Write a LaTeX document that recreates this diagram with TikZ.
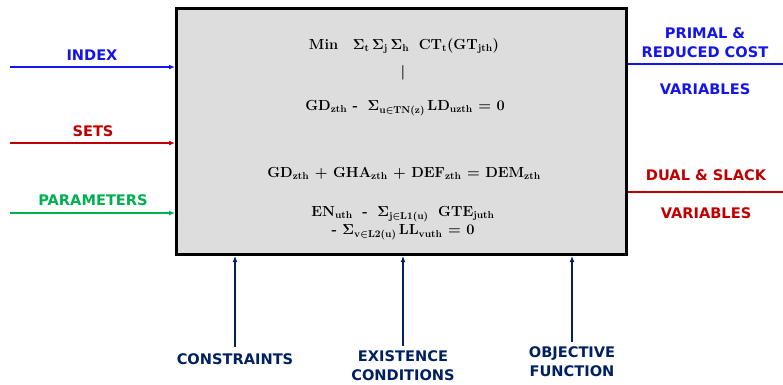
\documentclass[tikz,border=0pt]{standalone}
\usepackage[no-math]{fontspec}
\usepackage{amsmath}
\usetikzlibrary{positioning,arrows.meta}
\newfontfamily\labelfont{DejaVu Sans}
\definecolor{indexblue}{RGB}{20,20,235}
\definecolor{setsred}{RGB}{192,0,0}
\definecolor{paramgreen}{RGB}{0,176,80}
\definecolor{condnavy}{RGB}{0,32,96}
\definecolor{modelgray}{RGB}{221,221,221}

\begin{document}
\begin{tikzpicture}[
        x=1pt, y=-1pt,
        model/.style={draw=black, line width=3pt, fill=modelgray,
            minimum width=450pt, minimum height=246pt},
        eq/.style={font=\bfseries\boldmath\fontsize{14.6}{16}\selectfont, inner sep=0pt},
        lbl/.style={text=#1, align=center, inner sep=2pt,
            font=\labelfont\bfseries\fontsize{14.6}{19}\selectfont},
        inarrow/.style={draw=#1, line width=1.6pt, -{Latex[length=6pt,width=5pt]}},
        outline/.style={draw=#1, line width=1.6pt}
    ]
        \useasboundingbox (0,0) rectangle (783,384);
        \node[model] (model) at (401.5,131.5) {};

        \node[eq] (objfun) at (404,46) {Min\quad $\mathbf{\Sigma}_{\mathbf t}\,\mathbf{\Sigma}_{\mathbf j}\,\mathbf{\Sigma}_{\mathbf h}$\; CT$_{\mathbf t}$(GT$_{\mathbf{jth}}$)};
        \node[eq] (sep) at (403,73) {|};
        \node[eq] (flow) at (405,108) {GD$_{\mathbf{zth}}$ -\; $\mathbf{\Sigma}_{\mathbf{u\in TN(z)}}$\,LD$_{\mathbf{uzth}}$ = 0};
        \node[eq] (balance) at (404,173) {GD$_{\mathbf{zth}}$ + GHA$_{\mathbf{zth}}$ + DEF$_{\mathbf{zth}}$ = DEM$_{\mathbf{zth}}$};
        \node[eq] (energy) at (403,214) {EN$_{\mathbf{uth}}$\; -\; $\mathbf{\Sigma}_{\mathbf{j\in L1(u)}}$\; GTE$_{\mathbf{juth}}$};
        \node[eq, below=3pt of energy] (lines) {- $\mathbf{\Sigma}_{\mathbf{v\in L2(u)}}$\,LL$_{\mathbf{vuth}}$ = 0};

        \node[lbl=indexblue] (index) at (92,55) {INDEX};
        \node[lbl=setsred] (sets) at (93,131) {SETS};
        \node[lbl=paramgreen] (params) at (93,200) {PARAMETERS};
        \coordinate (index in) at (10,67);
        \coordinate (sets in) at (10,143);
        \coordinate (params in) at (10,213);
        \draw[inarrow=indexblue] (index in) -- (index in -| model.west);
        \draw[inarrow=setsred] (sets in) -- (sets in -| model.west);
        \draw[inarrow=paramgreen] (params in) -- (params in -| model.west);

        \node[lbl=indexblue] (primal) at (705,43) {PRIMAL \&\\REDUCED COST};
        \node[lbl=indexblue] (primalvar) at (705,89) {VARIABLES};
        \node[lbl=setsred] (dual) at (706,175) {DUAL \& SLACK};
        \node[lbl=setsred] (dualvar) at (706,213) {VARIABLES};
        \coordinate (primal out) at (783,64);
        \coordinate (dual out) at (783,192);
        \draw[outline=indexblue] (primal out -| model.east) -- (primal out);
        \draw[outline=setsred] (dual out -| model.east) -- (dual out);

        \node[lbl=condnavy] (constraints) at (235,359) {CONSTRAINTS};
        \node[lbl=condnavy] (existence) at (403,366) {EXISTENCE\\CONDITIONS};
        \node[lbl=condnavy] (objective) at (572,362) {OBJECTIVE\\FUNCTION};
        \draw[inarrow=condnavy] (constraints.north) ++(0,-4) -- (constraints |- model.south);
        \draw[inarrow=condnavy] (existence.north) ++(0,-3) -- (existence |- model.south);
        \draw[inarrow=condnavy] (objective.north) ++(0,-3) -- (objective |- model.south);
    \end{tikzpicture}
\end{document}
